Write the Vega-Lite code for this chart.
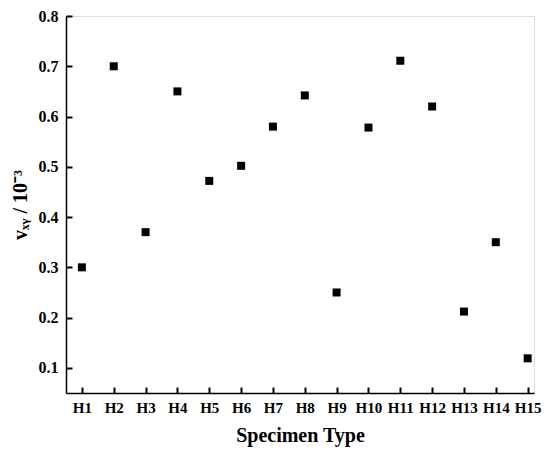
{
  "$schema": "https://vega.github.io/schema/vega-lite/v6.json",
  "width": 468,
  "height": 377,
  "autosize": "none",
  "padding": {"left": 66, "top": 16, "right": 16, "bottom": 62},
  "background": "white",
  "data": {
    "values": [
      {"type": "H1", "n": 1, "v": 0.300},
      {"type": "H2", "n": 2, "v": 0.700},
      {"type": "H3", "n": 3, "v": 0.370},
      {"type": "H4", "n": 4, "v": 0.650},
      {"type": "H5", "n": 5, "v": 0.472},
      {"type": "H6", "n": 6, "v": 0.502},
      {"type": "H7", "n": 7, "v": 0.580},
      {"type": "H8", "n": 8, "v": 0.642},
      {"type": "H9", "n": 9, "v": 0.250},
      {"type": "H10", "n": 10, "v": 0.578},
      {"type": "H11", "n": 11, "v": 0.711},
      {"type": "H12", "n": 12, "v": 0.620},
      {"type": "H13", "n": 13, "v": 0.212},
      {"type": "H14", "n": 14, "v": 0.350},
      {"type": "H15", "n": 15, "v": 0.119}
    ]
  },
  "mark": {"type": "point", "shape": "square", "filled": true, "color": "black", "size": 64, "opacity": 1},
  "encoding": {
    "x": {
      "field": "n", "type": "quantitative",
      "scale": {"domain": [0.5, 15.2], "nice": false, "zero": false},
      "axis": {
        "grid": false,
        "domainColor": "black",
        "domainWidth": 1.5,
        "tickColor": "black",
        "tickWidth": 2,
        "tickSize": -6,
        "values": [1,2,3,4,5,6,7,8,9,10,11,12,13,14,15],
        "labelExpr": "'H' + datum.value",
        "labelColor": "black",
        "labelFont": "Liberation Serif",
        "labelFontWeight": "bold",
        "labelFontSize": 15,
        "labelPadding": 13,
        "title": "Specimen Type",
        "titleColor": "black",
        "titleFont": "Liberation Serif",
        "titleFontWeight": "bold",
        "titleFontSize": 20,
        "titlePadding": 10
      }
    },
    "y": {
      "field": "v", "type": "quantitative",
      "scale": {"domain": [0.05, 0.8], "nice": false, "zero": false},
      "axis": {
        "grid": false,
        "domainColor": "black",
        "domainWidth": 1.5,
        "tickColor": "black",
        "tickWidth": 2,
        "tickSize": -6,
        "values": [0.1,0.2,0.3,0.4,0.5,0.6,0.7,0.8],
        "format": ".1f",
        "labelColor": "black",
        "labelFont": "Liberation Serif",
        "labelFontWeight": "bold",
        "labelFontSize": 16,
        "labelPadding": 14,
        "title": "vₓᵧ / 10⁻³",
        "titleColor": "black",
        "titleFont": "Liberation Serif",
        "titleFontWeight": "bold",
        "titleFontSize": 20,
        "titlePadding": 8
      }
    }
  }
}
